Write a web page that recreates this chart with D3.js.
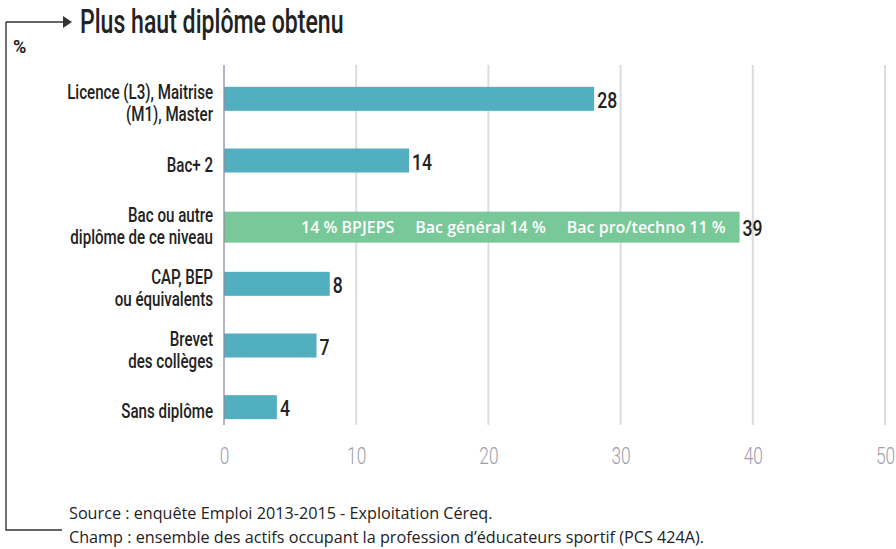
<!DOCTYPE html>
<html>
<head>
<meta charset="utf-8">
<script src="https://cdn.jsdelivr.net/npm/d3@7/dist/d3.min.js"></script>
<style>
  html, body { margin: 0; padding: 0; background: #fff; }
  svg { display: block; }
  .cond { font-family: "Roboto", "DejaVu Sans Condensed", sans-serif; }
  .foot { font-family: "Open Sans", "Noto Sans", sans-serif; }
</style>
</head>
<body>
<svg id="chart" width="896" height="549"></svg>
<script>
// Plus haut diplôme obtenu — éducateurs sportifs
const categories = [
  ["Licence (L3), Maitrise", "(M1), Master"],
  ["Bac+ 2"],
  ["Bac ou autre", "diplôme de ce niveau"],
  ["CAP, BEP", "ou équivalents"],
  ["Brevet", "des collèges"],
  ["Sans diplôme"]
];
const values = [28, 14, 39, 8, 7, 4];
const highlighted = [false, false, true, false, false, false];
const bacDetail = ["14 % BPJEPS", "Bac général 14 %", "Bac pro/techno 11 %"];
const xTicks = [0, 10, 20, 30, 40, 50];
const title = "Plus haut diplôme obtenu";
const unit = "%";
const notes = [
  "Source : enquête Emploi 2013-2015 - Exploitation Céreq.",
  "Champ : ensemble des actifs occupant la profession d\u2019éducateurs sportif (PCS 424A)."
];

// Horizontal squeeze used to get a narrow, condensed look from the installed faces
const SQ_TITLE = 0.70, SQ_CAT = 0.72, SQ_VAL = 0.8, SQ_TICK = 0.72;

const svg = d3.select("#chart");
const plot = { left: 224, right: 885, top: 68, bottom: 438 };

const x = d3.scaleLinear().domain([0, 50]).range([plot.left, plot.right]);
const y = d3.scaleBand().domain(d3.range(values.length)).range([plot.top, plot.bottom]).paddingInner(0.6).paddingOuter(0.3);
const bh = y.bandwidth();
const yc = i => y(i) + bh / 2 + (highlighted[i] ? 5 : 0);

// Frame: arrow to the title and bracket down to the notes
svg.append("path").attr("d", "M6,22 H64 M6,22 V530 H62")
  .attr("stroke", "#333").attr("stroke-width", 1.4).attr("fill", "none");
svg.append("path").attr("d", "M63,16 L72,22 L63,28 Z").attr("fill", "#333");

svg.append("text").attr("class", "cond")
  .attr("transform", `translate(80,33) scale(${SQ_TITLE},1)`)
  .attr("font-size", 33).attr("font-weight", 500).attr("fill", "#222").text(title);
svg.append("text").attr("class", "cond")
  .attr("transform", `translate(13,53) scale(0.95,1)`)
  .attr("font-size", 19).attr("font-weight", "bold").attr("fill", "#222").text(unit);

// Grid lines
svg.append("g").selectAll("line").data(xTicks.slice(1)).join("line")
  .attr("x1", d => x(d)).attr("x2", d => x(d))
  .attr("y1", 65).attr("y2", 425)
  .attr("stroke", "#dcdcdc").attr("stroke-width", 2);

// Axis tick labels
const axis = svg.append("g").attr("transform", `translate(0,${plot.bottom})`)
  .call(d3.axisBottom(x).tickValues(xTicks).tickSize(0).tickPadding(0));
axis.select(".domain").remove();
axis.selectAll("text")
  .attr("class", "cond").attr("font-size", 24).attr("font-weight", 300).attr("fill", "#9c9cae")
  .attr("y", 0).attr("dy", 0)
  .attr("transform", `translate(0,26) scale(${SQ_TICK},1)`);

// Bars
svg.append("g").selectAll("rect").data(values).join("rect")
  .attr("x", x(0))
  .attr("y", (d, i) => yc(i) - (highlighted[i] ? 15.5 : 12))
  .attr("width", d => x(d) - x(0))
  .attr("height", (d, i) => highlighted[i] ? 31 : 24)
  .attr("fill", (d, i) => highlighted[i] ? "#79c89a" : "#52afc0");

// Zero line
svg.append("line").attr("x1", x(0)).attr("x2", x(0)).attr("y1", 65).attr("y2", 425)
  .attr("stroke", "#8c8ca4").attr("stroke-width", 1.3);

// Value labels
svg.append("g").selectAll("text").data(values).join("text")
  .attr("class", "cond")
  .attr("transform", (d, i) => `translate(${x(d) + 3},${yc(i) + 9}) scale(${SQ_VAL},1)`)
  .attr("font-size", 22).attr("font-weight", 500).attr("fill", "#222")
  .text(d => d);

// Category labels
const cat = svg.append("g").selectAll("text").data(categories).join("text")
  .attr("class", "cond")
  .attr("text-anchor", "end")
  .attr("font-size", 21).attr("font-weight", 500).attr("fill", "#222")
  .attr("transform", (d, i) => `translate(213,${y(i) + bh / 2 + 11}) scale(${SQ_CAT},1)`);
cat.selectAll("tspan").data(d => d.map((t, k) => ({ t, k, n: d.length }))).join("tspan")
  .attr("x", 0)
  .attr("y", d => (d.k - (d.n - 1) / 2) * 22)
  .text(d => d.t);

// Detail inside the Bac bar
const hi = highlighted.indexOf(true);
const detail = svg.append("g").attr("class", "foot").attr("font-size", 16)
  .attr("font-weight", 600).attr("fill", "#fff");
let cursor = x(values[hi]) - 14;
bacDetail.slice().reverse().forEach(t => {
  const el = detail.append("text").attr("x", cursor).attr("y", yc(hi) + 6)
    .attr("text-anchor", "end").text(t);
  cursor -= el.node().getComputedTextLength() + 21;
});

// Notes
svg.append("g").attr("class", "foot").attr("font-size", 16.2).attr("fill", "#222")
  .selectAll("text").data(notes).join("text")
  .attr("x", 69).attr("y", (d, i) => 519 + i * 24).text(d => d);
</script>
</body>
</html>
